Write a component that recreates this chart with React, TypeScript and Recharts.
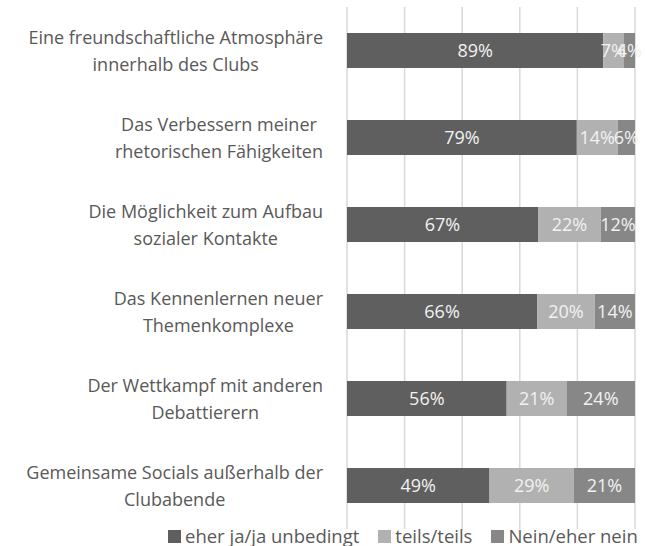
import React from 'react';
import { BarChart, Bar, XAxis, YAxis, CartesianGrid, Legend, LabelList } from 'recharts';

const categories: string[][] = [
  ['Eine freundschaftliche Atmosphäre', 'innerhalb des Clubs'],
  ['Das Verbessern meiner', 'rhetorischen Fähigkeiten'],
  ['Die Möglichkeit zum Aufbau', 'sozialer Kontakte'],
  ['Das Kennenlernen neuer', 'Themenkomplexe'],
  ['Der Wettkampf mit anderen', 'Debattierern'],
  ['Gemeinsame Socials außerhalb der', 'Clubabende'],
];
const yesValues = [89, 79, 67, 66, 56, 49];
const partlyValues = [7, 14, 22, 20, 21, 29];
const noValues = [4, 6, 12, 14, 24, 21];
const seriesNames = ['eher ja/ja unbedingt', 'teils/teils', 'Nein/eher nein'];
const xTicks = [0, 0.2, 0.4, 0.6, 0.8, 1];

const data = categories.map((c, i) => ({
  name: c.join('\n'),
  yes: yesValues[i],
  partly: partlyValues[i],
  no: noValues[i],
}));

const FONT = '"Open Sans", Lato, sans-serif';
const COLORS = ['#5f5f5f', '#b1b1b1', '#878787'];
const TEXT = '#595959';
const LABEL_SIZE = 18;

let ctx: CanvasRenderingContext2D | null = null;
function measure(t: string): number {
  if (!ctx) {
    const c = document.createElement('canvas');
    ctx = c.getContext('2d');
  }
  if (!ctx) return t.length * 8;
  ctx.font = `${LABEL_SIZE}px ${FONT}`;
  return ctx.measureText(t).width;
}

const CategoryTick = (props: any) => {
  const { y, payload } = props;
  const lines: string[] = String(payload.value).split('\n');
  const right = 323;
  const w = Math.max(...lines.map(measure));
  const cx = right - w / 2;
  const lh = 27;
  const start = -((lines.length - 1) * lh) / 2;
  return (
    <g>
      {lines.map((l, i) => (
        <text
          key={i}
          x={cx}
          y={y + start + i * lh}
          textAnchor="middle"
          dominantBaseline="central"
          fill={TEXT}
          fontSize={LABEL_SIZE}
          fontFamily={FONT}
        >
          {l}
        </text>
      ))}
    </g>
  );
};

const LegendContent = () => (
  <div style={{ display: 'flex', fontFamily: FONT, fontSize: 18.5, color: TEXT, lineHeight: '20px', whiteSpace: 'nowrap' }}>
    {seriesNames.map((n, i) => (
      <div key={n} style={{ display: 'flex', alignItems: 'center', marginLeft: i === 0 ? 0 : 19 }}>
        <span style={{ display: 'inline-block', width: 13, height: 13, background: COLORS[i], marginRight: 4 }} />
        <span>{n}</span>
      </div>
    ))}
  </div>
);

const fmt = (v: any) => `${v}%`;

export default function App() {
  return (
    <div style={{ position: 'absolute', left: 0, top: 0, width: 647, height: 546, background: '#fff', overflow: 'hidden' }}>
      <BarChart
        width={647}
        height={546}
        data={data}
        layout="vertical"
        stackOffset="expand"
        margin={{ top: 7, right: 12, left: 0, bottom: 17 }}
        barSize={35}
      >
        <CartesianGrid horizontal={false} stroke="#d9d9d9" strokeWidth={1.5} />
        <XAxis type="number" hide domain={[0, 1]} ticks={xTicks} />
        <YAxis
          type="category"
          dataKey="name"
          width={347}
          axisLine={false}
          tickLine={false}
          tick={<CategoryTick />}
          interval={0}
        />
        <Legend
          verticalAlign="middle"
          layout="horizontal"
          content={<LegendContent />}
          wrapperStyle={{ top: 526, left: 168, width: 479 }}
        />
        <Bar dataKey="yes" stackId="a" fill={COLORS[0]} isAnimationActive={false} name={seriesNames[0]}>
          <LabelList dataKey="yes" position="center" formatter={fmt} fill="#f2f2f2" fontSize={18} fontFamily={FONT} />
        </Bar>
        <Bar dataKey="partly" stackId="a" fill={COLORS[1]} isAnimationActive={false} name={seriesNames[1]}>
          <LabelList dataKey="partly" position="center" formatter={fmt} fill="#f2f2f2" fontSize={18} fontFamily={FONT} />
        </Bar>
        <Bar dataKey="no" stackId="a" fill={COLORS[2]} isAnimationActive={false} name={seriesNames[2]}>
          <LabelList dataKey="no" position="center" formatter={fmt} fill="#f2f2f2" fontSize={18} fontFamily={FONT} />
        </Bar>
      </BarChart>
    </div>
  );
}
